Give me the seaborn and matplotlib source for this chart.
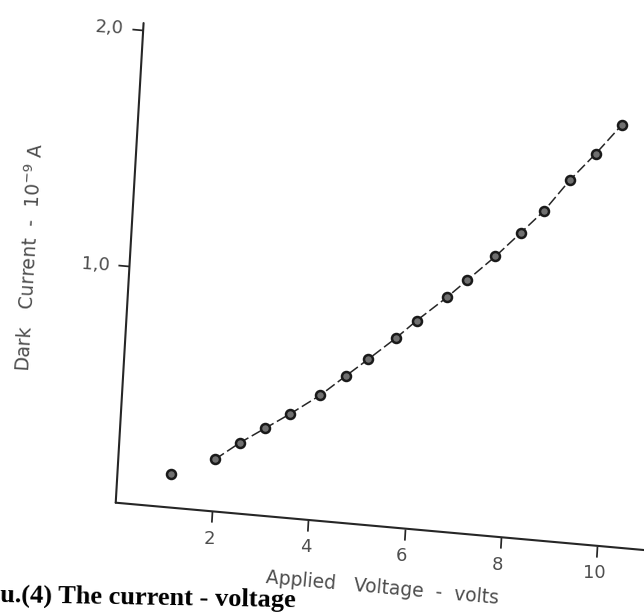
import numpy as np
import pandas as pd
import matplotlib
matplotlib.use("Agg")
import matplotlib.pyplot as plt
import seaborn as sns
from matplotlib.transforms import Affine2D
from mpl_toolkits.axisartist import floating_axes
from mpl_toolkits.axisartist.grid_finder import FixedLocator, DictFormatter

# ---- data ----
voltage = [1.1, 2.0, 2.5, 3.0, 3.5, 4.1, 4.6, 5.05, 5.6, 6.0, 6.6, 7.0, 7.55, 8.05, 8.5, 9.0, 9.5, 10.0]
current = [0.14, 0.22, 0.30, 0.37, 0.44, 0.53, 0.62, 0.70, 0.80, 0.88, 0.99, 1.07, 1.18, 1.29, 1.39, 1.53, 1.65, 1.78]
x_ticks = [2, 4, 6, 8, 10]
x_tick_labels = ["2", "4", "6", "8", "10"]
y_ticks = [1.0, 2.0]
y_tick_labels = ["1,0", "2,0"]
x_label = "Applied   Voltage  -  volts"
y_label = "Dark   Current  -  10$^{-9}$ A"
caption = "u.(4) The current - voltage"

df = pd.DataFrame({"voltage": voltage, "current": current})

sns.set_theme(style="white")
plt.rcParams["font.family"] = ["DejaVu Sans"]

W, H = 644, 614
fig = plt.figure(figsize=(W / 100, H / 100), dpi=100)
fig.patch.set_facecolor("white")

# skew of the scanned page: (volts, current) -> page pixels (y up)
skew = Affine2D(np.array([[49.1, 14.0, 110.0],
                          [-4.4, 241.0, 107.0],
                          [0.0, 0.0, 1.0]]))
v_lim = (0.0, 11.3)
i_lim = (0.0, 2.03)
grid_helper = floating_axes.GridHelperCurveLinear(
    skew, extremes=(v_lim[0], v_lim[1], i_lim[0], i_lim[1]),
    grid_locator1=FixedLocator(x_ticks),
    grid_locator2=FixedLocator(y_ticks),
    tick_formatter1=DictFormatter(dict(zip(x_ticks, x_tick_labels))),
    tick_formatter2=DictFormatter(dict(zip(y_ticks, y_tick_labels))))

corners = skew.transform(np.array([[v_lim[0], i_lim[0]], [v_lim[1], i_lim[0]],
                                   [v_lim[0], i_lim[1]], [v_lim[1], i_lim[1]]]))
x0, y0 = corners.min(axis=0)
x1, y1 = corners.max(axis=0)
ax = fig.add_axes([x0 / W, y0 / H, (x1 - x0) / W, (y1 - y0) / H],
                  axes_class=floating_axes.FloatingAxes, grid_helper=grid_helper)
ax.patch.set_alpha(0)

ink = "#262626"
soft = "#4d4d4d"
for side in ["top", "right"]:
    ax.axis[side].set_visible(False)
for side in ["bottom", "left"]:
    a = ax.axis[side]
    a.line.set_linewidth(1.5)
    a.line.set_color(ink)
    a.major_ticks.set_tick_out(True)
    a.major_ticks.set_ticksize(8)
    a.major_ticks.set_color(ink)
    a.major_ticklabels.set_fontsize(13)
    a.major_ticklabels.set_color(soft)
    a.label.set_fontsize(13.5)
    a.label.set_color(soft)

ax.axis["bottom"].major_ticklabels.set_rotation(5)
ax.axis["bottom"].major_ticklabels.set_pad(6)
ax.axis["left"].major_ticklabels.set_pad(6)
ax.axis["bottom"].label.set_text(x_label)
ax.axis["bottom"].label.set_pad(14)
ax.axis["left"].label.set_text(y_label)
ax.axis["left"].label.set_pad(30)

aux = ax.get_aux_axes(skew)
sns.lineplot(data=df.iloc[1:], x="voltage", y="current", ax=aux, color=ink,
             linewidth=1.1, linestyle=(0, (7, 2.5)), legend=False, sort=True,
             estimator=None)
sns.scatterplot(data=df, x="voltage", y="current", ax=aux, s=42, marker="o",
                facecolor="#707070", edgecolor="#1a1a1a", linewidth=1.8,
                zorder=5, legend=False)

fig.text(0.0, 0.02, caption, family="Liberation Serif", weight="bold",
         fontsize=19, color="black", rotation=-1.0, rotation_mode="anchor",
         ha="left", va="baseline")

fig.savefig("out.png", dpi=100, facecolor="white")
